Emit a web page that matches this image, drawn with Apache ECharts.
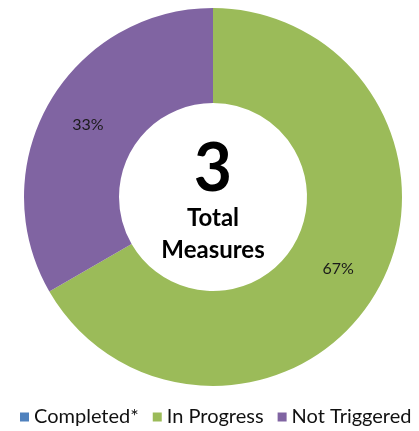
<!DOCTYPE html>
<html>
<head>
<meta charset="utf-8">
<script src="https://cdn.jsdelivr.net/npm/echarts@6/dist/echarts.min.js"></script>
<style>
  html, body { margin: 0; padding: 0; background: #fff; }
  #chart { width: 419px; height: 431px; }
</style>
</head>
<body>
<div id="chart"></div>
<script>
// status categories and measure counts
const categories = ['Completed*', 'In Progress', 'Not Triggered']
const counts = [0, 2, 1]
const colors = ['#4F81BD', '#9BBB59', '#8064A2']
const totalLabel = ['Total', 'Measures']

const total = counts.reduce((a, b) => a + b, 0)
const chart = echarts.init(document.getElementById('chart'))

const centerText = (text, y, size) => ({
  type: 'text', x: 213, y,
  style: { text, font: `bold ${size}px Lato`, fill: '#000', align: 'center', verticalAlign: 'middle' }
})

chart.setOption({
  animation: false,
  color: colors,
  legend: {
    data: categories,
    top: 407,
    left: 20,
    padding: 0,
    icon: 'rect',
    itemWidth: 9,
    itemHeight: 9,
    itemGap: 14,
    textStyle: { fontFamily: 'Lato', fontSize: 20, color: '#111' }
  },
  graphic: [
    centerText(String(total), 170, 66),
    centerText(totalLabel[0], 218, 24),
    centerText(totalLabel[1], 250, 24)
  ],
  series: [{
    type: 'pie',
    center: [213, 197],
    radius: [94, 189],
    startAngle: 90,
    clockwise: true,
    avoidLabelOverlap: false,
    label: {
      position: 'inside',
      fontFamily: 'Lato',
      fontSize: 16,
      color: '#1a1a1a',
      formatter: (p) => (p.value ? Math.round(p.percent) + '%' : '')
    },
    labelLine: { show: false },
    emphasis: { disabled: true },
    data: categories.map((name, i) => ({ name, value: counts[i] }))
  }]
})
</script>
</body>
</html>
